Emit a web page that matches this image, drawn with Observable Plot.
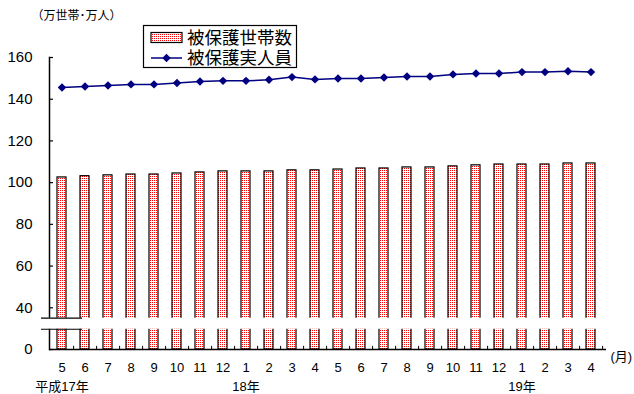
<!DOCTYPE html>
<html>
<head>
<meta charset="utf-8">
<script src="https://cdn.jsdelivr.net/npm/d3@7"></script>
<script src="https://cdn.jsdelivr.net/npm/@observablehq/plot@0.6"></script>
<style>
  html, body { margin: 0; padding: 0; background: #fff; }
  svg { font-family: "Liberation Sans", Arial, "Noto Sans CJK JP", sans-serif; }
</style>
</head>
<body>
<div id="chart"></div>
<script>
// ---- data ----
const categories = ["H17-05","H17-06","H17-07","H17-08","H17-09","H17-10","H17-11","H17-12",
  "H18-01","H18-02","H18-03","H18-04","H18-05","H18-06","H18-07","H18-08","H18-09","H18-10","H18-11","H18-12",
  "H19-01","H19-02","H19-03","H19-04"];
const monthLabels = ["5","6","7","8","9","10","11","12","1","2","3","4","5","6","7","8","9","10","11","12","1","2","3","4"];
// 被保護世帯数 (万世帯)
const households = [102.5,103.1,103.5,103.9,103.9,104.4,104.9,105.4,105.4,105.4,105.9,105.9,
  106.3,106.8,106.8,107.3,107.3,107.8,108.3,108.7,108.7,108.7,109.2,109.2];
// 被保護実人員 (万人)
const persons = [145.6,146.1,146.6,147.1,147.1,147.8,148.5,148.8,148.8,149.3,150.6,149.5,
  149.9,149.9,150.4,150.9,150.9,151.9,152.3,152.3,153.0,153.0,153.4,153.0];
// y axis (broken axis: bottom tick is labelled 0)
const yTicks = [20,40,60,80,100,120,140,160];
const yTickLabels = ["0","40","60","80","100","120","140","160"];
const breakValues = [35, 29.7];
const yearCats = ["H17-05","H18-01","H19-01"];
const yearLabels = ["平成17年","18年","19年"];
const seriesNames = ["被保護世帯数","被保護実人員"];

const rows = categories.map((c, i) => ({cat: c, month: monthLabels[i], households: households[i], persons: persons[i]}));
const monthOf = Object.fromEntries(categories.map((c, i) => [c, monthLabels[i]]));
const yLabelOf = Object.fromEntries(yTicks.map((t, i) => [t, yTickLabels[i]]));
const years = yearCats.map((c, i) => ({cat: c, label: yearLabels[i]}));
const navy = "#000080";

const chart = Plot.plot({
  width: 634,
  height: 394,
  marginLeft: 49,
  marginRight: 28,
  marginTop: 57,
  marginBottom: 45,
  x: {domain: categories, paddingInner: 0.6, paddingOuter: 0.3, align: 0.4, axis: null},
  y: {domain: [20, 160], axis: null},
  marks: [
    Plot.barY(rows, {x: "cat", y1: 20, y2: "households", fill: "url(#redDots)", stroke: "black", strokeWidth: 1.2}),
    Plot.ruleY([20], {stroke: "black", strokeWidth: 1.5}),
    Plot.frame({anchor: "left", stroke: "black", strokeWidth: 1.5}),
    Plot.rect([0], {y1: breakValues[1], y2: breakValues[0], fill: "white", insetLeft: -3}),
    Plot.ruleY(breakValues, {stroke: "black", strokeWidth: 1.2, insetLeft: -8, insetRight: 524}),
    Plot.ruleX(rows, {x: "cat", dx: 11.6, y1: 20, y2: 21.5, stroke: "black"}),
    Plot.axisY({ticks: yTicks, tickSize: -4, tickPadding: 21, tickFormat: d => yLabelOf[d], fontSize: 15, label: null, anchor: "left", stroke: "black", strokeWidth: 1.2}),
    Plot.axisX({tickSize: 0, tickPadding: 13, tickFormat: d => monthOf[d], fontSize: 13, label: null, anchor: "bottom"}),
    Plot.text(years, {x: "cat", y: 20, text: "label", dy: 37, fontSize: 13, fill: "black"}),
    Plot.text(["(月)"], {frameAnchor: "bottom-right", text: d => d, dx: 4, dy: 11, textAnchor: "start", fontSize: 13, fill: "black"}),
    Plot.text(["（万世帯･万人）"], {frameAnchor: "top-left", text: d => d, dx: -18, dy: -46, textAnchor: "start", fontSize: 12, fill: "black"}),
    Plot.line(rows, {x: "cat", y: "persons", stroke: navy, strokeWidth: 1.5}),
    Plot.dot(rows, {x: "cat", y: "persons", symbol: "diamond2", r: 3.8, fill: navy, stroke: "none"})
  ]
});

// pattern definition for bars
const svg = d3.select(chart);
const defs = svg.insert("defs", ":first-child");
const pat = defs.append("pattern").attr("id", "redDots").attr("patternUnits", "userSpaceOnUse")
  .attr("width", 2).attr("height", 2);
pat.append("rect").attr("width", 2).attr("height", 2).attr("fill", "white");
pat.append("rect").attr("width", 1).attr("height", 1).attr("fill", "#ff0000");

// legend
const lg = svg.append("g").attr("class", "legend").attr("text-anchor", "start");
lg.append("rect").attr("x", 143.5).attr("y", 25.5).attr("width", 153).attr("height", 42)
  .attr("fill", "white").attr("stroke", "black").attr("stroke-width", 1.2);
lg.append("rect").attr("x", 151).attr("y", 32.5).attr("width", 31).attr("height", 10)
  .attr("fill", "url(#redDots)").attr("stroke", "black").attr("stroke-width", 1.2);
lg.append("line").attr("x1", 151).attr("x2", 182).attr("y1", 58).attr("y2", 58)
  .attr("stroke", navy).attr("stroke-width", 1.5);
lg.append("path").attr("d", d3.symbol(d3.symbolDiamond2, Math.PI * 3.8 * 3.8)()).attr("transform", "translate(166.5,58)").attr("fill", navy);
lg.selectAll("text.lt").data(seriesNames).join("text").attr("class", "lt")
  .attr("x", 187).attr("y", (d, i) => i === 0 ? 37.5 : 57.5).attr("dy", "0.35em")
  .attr("text-anchor", "start")
  .attr("font-size", 17.5).attr("font-family", "'Liberation Sans', 'Noto Sans CJK JP', sans-serif").text(d => d);

document.getElementById("chart").appendChild(chart);
</script>
</body>
</html>
